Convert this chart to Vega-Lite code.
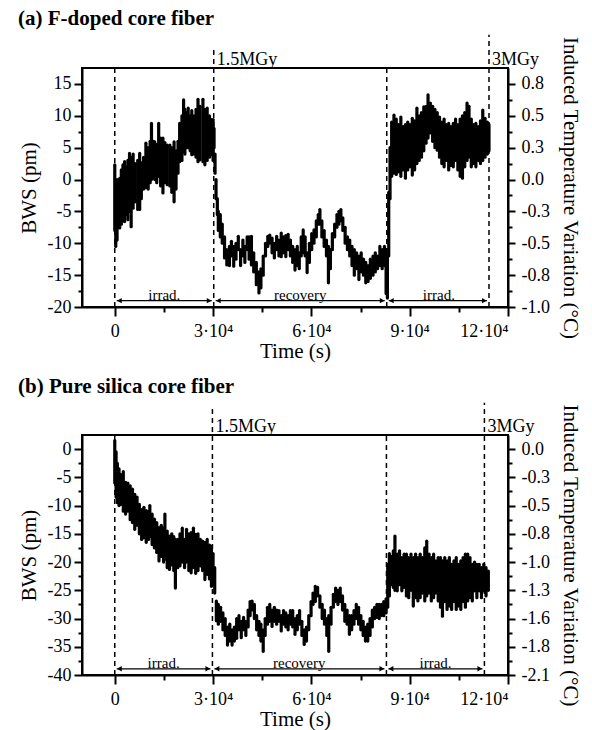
{
  "$schema": "https://vega.github.io/schema/vega-lite/v6.json",
  "padding": {"left": 17, "top": 7, "right": 3, "bottom": 0},
  "spacing": 13,
  "config": {
    "font": "Liberation Serif",
    "view": {"stroke": "black", "strokeWidth": 2},
    "axis": {"labelFont": "Liberation Serif", "titleFont": "Liberation Serif", "labelFontSize": 18, "titleFontSize": 21, "titleFontWeight": "normal", "labelColor": "black", "titleColor": "black", "domainColor": "black", "domainWidth": 2, "tickColor": "black", "tickWidth": 2, "grid": false},
    "title": {"font": "Liberation Serif", "fontSize": 21, "fontWeight": "bold", "color": "black", "anchor": "start"}
  },
  "datasets": {
    "a_pts": [
      {"t":0,"lo":-8,"hi":2.3},{"t":300,"lo":-10.5,"hi":-1},{"t":700,"lo":-9.5,"hi":0},{"t":1100,"lo":-7.5,"hi":-1},{"t":1500,"lo":-7.6,"hi":0.2},{"t":2000,"lo":-7,"hi":1.5},{"t":2500,"lo":-6.5,"hi":2.3},{"t":3000,"lo":-6.6,"hi":2.8},{"t":3500,"lo":-5.5,"hi":2},{"t":4000,"lo":-6.3,"hi":3},{"t":4500,"lo":-5,"hi":4.1},{"t":5000,"lo":-7.4,"hi":3.5},{"t":5600,"lo":-4.5,"hi":4},{"t":6200,"lo":-3.5,"hi":2.5},{"t":7000,"lo":-4.7,"hi":3},{"t":7600,"lo":-4.7,"hi":4.1},{"t":8100,"lo":-3,"hi":2.6},{"t":8800,"lo":-1.5,"hi":3.5},{"t":9500,"lo":-1.3,"hi":5.7},{"t":10200,"lo":-1.5,"hi":5},{"t":10800,"lo":-0.5,"hi":6},{"t":11200,"lo":0,"hi":8.8},{"t":11800,"lo":0.3,"hi":6},{"t":12200,"lo":0,"hi":5.9},{"t":12800,"lo":-0.5,"hi":5.5},{"t":13400,"lo":0.5,"hi":8.8},{"t":14000,"lo":-1,"hi":6.5},{"t":14700,"lo":-2.1,"hi":6.5},{"t":15300,"lo":-0.5,"hi":5.8},{"t":16000,"lo":-0.8,"hi":5.4},{"t":16800,"lo":-1,"hi":5.4},{"t":17400,"lo":-2,"hi":5},{"t":18100,"lo":-3.5,"hi":5.9},{"t":18700,"lo":-1.5,"hi":4.5},{"t":19300,"lo":1,"hi":6},{"t":19800,"lo":2.8,"hi":8.8},{"t":20500,"lo":3,"hi":10},{"t":21000,"lo":4.4,"hi":12.5},{"t":21400,"lo":4,"hi":11},{"t":22000,"lo":5,"hi":10.5},{"t":22400,"lo":5,"hi":11.2},{"t":23000,"lo":4.5,"hi":10},{"t":23500,"lo":3.9,"hi":10.8},{"t":24200,"lo":4,"hi":10},{"t":24800,"lo":3.5,"hi":11},{"t":25400,"lo":2.8,"hi":12.6},{"t":26000,"lo":3.1,"hi":11.5},{"t":26900,"lo":2.8,"hi":12.6},{"t":27500,"lo":2.3,"hi":11},{"t":28200,"lo":3,"hi":11.2},{"t":28900,"lo":3.5,"hi":10},{"t":29500,"lo":3.9,"hi":9.4},{"t":30000,"lo":3,"hi":9.4},
      {"t":30300,"lo":5,"hi":8},{"t":30600,"lo":1,"hi":4},{"t":30900,"lo":-3,"hi":0},{"t":31300,"lo":-5.5,"hi":-3},
      {"t":31600,"lo":-8,"hi":-5},{"t":32200,"lo":-9,"hi":-5.5},{"t":32800,"lo":-10,"hi":-7},{"t":33500,"lo":-12.3,"hi":-9},{"t":34200,"lo":-13.4,"hi":-11},{"t":35000,"lo":-13.5,"hi":-10.5},{"t":35600,"lo":-12,"hi":-9.7},{"t":36300,"lo":-13.6,"hi":-10.5},{"t":37000,"lo":-12.5,"hi":-10},{"t":37700,"lo":-11,"hi":-8.9},{"t":38400,"lo":-13.5,"hi":-11},{"t":39100,"lo":-12,"hi":-9.5},{"t":39700,"lo":-13,"hi":-10.5},{"t":40400,"lo":-11,"hi":-9},{"t":41000,"lo":-12.5,"hi":-9},{"t":41700,"lo":-13.4,"hi":-8.9},{"t":42400,"lo":-14.5,"hi":-11.5},{"t":43200,"lo":-16.5,"hi":-13},{"t":44000,"lo":-17.8,"hi":-14.5},{"t":44600,"lo":-17,"hi":-14},{"t":45300,"lo":-15,"hi":-12},{"t":46000,"lo":-12,"hi":-10},{"t":46700,"lo":-10.5,"hi":-8.9},{"t":47300,"lo":-10,"hi":-8.7},{"t":48000,"lo":-11.5,"hi":-9.2},{"t":48700,"lo":-12.3,"hi":-10},{"t":49400,"lo":-11,"hi":-8.9},{"t":50100,"lo":-12,"hi":-9.5},{"t":50800,"lo":-12.1,"hi":-8.4},{"t":51500,"lo":-11.5,"hi":-9},{"t":52200,"lo":-12.1,"hi":-8.8},{"t":52900,"lo":-11,"hi":-8.6},{"t":53600,"lo":-12,"hi":-9.5},{"t":54300,"lo":-13,"hi":-10.5},{"t":55000,"lo":-14.2,"hi":-11},{"t":55700,"lo":-13.5,"hi":-10.5},{"t":56300,"lo":-14,"hi":-11.5},{"t":56900,"lo":-12,"hi":-9},{"t":57500,"lo":-11.5,"hi":-7.9},{"t":58100,"lo":-12,"hi":-9},{"t":58700,"lo":-14.6,"hi":-11.5},{"t":59400,"lo":-13,"hi":-10},{"t":60100,"lo":-11,"hi":-8.5},{"t":60800,"lo":-10,"hi":-7.9},{"t":61500,"lo":-9,"hi":-6.5},{"t":62100,"lo":-7,"hi":-5.5},{"t":62600,"lo":-7,"hi":-4.7},{"t":63200,"lo":-9,"hi":-6.5},{"t":63900,"lo":-10.5,"hi":-8},{"t":64600,"lo":-12,"hi":-9.5},{"t":65200,"lo":-16.2,"hi":-10.5},{"t":65800,"lo":-14,"hi":-11},{"t":66400,"lo":-11,"hi":-8.5},{"t":67100,"lo":-9,"hi":-7},{"t":67800,"lo":-7.5,"hi":-5.5},{"t":68400,"lo":-7,"hi":-5},{"t":69000,"lo":-6.5,"hi":-4.7},{"t":69600,"lo":-8,"hi":-6},{"t":70300,"lo":-10,"hi":-7.5},{"t":71000,"lo":-11,"hi":-9},{"t":71700,"lo":-12,"hi":-9.5},{"t":72400,"lo":-13.5,"hi":-10.5},{"t":73100,"lo":-15,"hi":-11},{"t":73800,"lo":-14,"hi":-11.5},{"t":74500,"lo":-15.7,"hi":-12},{"t":75200,"lo":-14.5,"hi":-11.5},{"t":75900,"lo":-15,"hi":-12.5},{"t":76600,"lo":-16.2,"hi":-13},{"t":77300,"lo":-16,"hi":-13.5},{"t":78000,"lo":-15.5,"hi":-12.5},{"t":78800,"lo":-15,"hi":-12},{"t":79500,"lo":-14.5,"hi":-11.5},{"t":80200,"lo":-14,"hi":-12},{"t":80900,"lo":-13.5,"hi":-10.5},{"t":81600,"lo":-14,"hi":-11},{"t":82300,"lo":-13.5,"hi":-10.5},{"t":82800,"lo":-17.9,"hi":-11},
      {"t":83200,"lo":-18.6,"hi":-12},{"t":83600,"lo":-12,"hi":-2},{"t":84000,"lo":-3,"hi":5},
      {"t":84500,"lo":0.5,"hi":9},{"t":85200,"lo":1,"hi":10.1},{"t":85900,"lo":0.8,"hi":9.5},{"t":86600,"lo":1.2,"hi":8.6},{"t":87300,"lo":0.5,"hi":9.8},{"t":88000,"lo":1.5,"hi":8.3},{"t":88700,"lo":0.2,"hi":8.6},{"t":89400,"lo":1.5,"hi":9},{"t":90100,"lo":2,"hi":8.6},{"t":90800,"lo":0.7,"hi":9.6},{"t":91500,"lo":1.5,"hi":9.2},{"t":92200,"lo":2.5,"hi":11.2},{"t":92900,"lo":3,"hi":10},{"t":93600,"lo":3.5,"hi":10.5},{"t":94300,"lo":4.5,"hi":11.4},{"t":95000,"lo":5.7,"hi":11.5},{"t":95600,"lo":6.5,"hi":13.3},{"t":96300,"lo":7.3,"hi":12},{"t":97000,"lo":6,"hi":11.5},{"t":97700,"lo":5,"hi":11},{"t":98400,"lo":4.6,"hi":10.5},{"t":99100,"lo":3.5,"hi":9.8},{"t":99800,"lo":2.5,"hi":9},{"t":100500,"lo":2,"hi":9.5},{"t":101200,"lo":3,"hi":8.6},{"t":101900,"lo":1.5,"hi":8.8},{"t":102600,"lo":2.2,"hi":8.3},{"t":103300,"lo":2,"hi":8.8},{"t":104000,"lo":3,"hi":9.5},{"t":104700,"lo":1.5,"hi":8.6},{"t":105400,"lo":0.5,"hi":9.5},{"t":106100,"lo":0.2,"hi":10},{"t":106800,"lo":2,"hi":10.5},{"t":107500,"lo":3,"hi":12},{"t":108100,"lo":3.5,"hi":11.5},{"t":108800,"lo":2,"hi":9.5},{"t":109500,"lo":2.5,"hi":8.6},{"t":110200,"lo":2,"hi":8.8},{"t":110900,"lo":3,"hi":8.3},{"t":111600,"lo":2.5,"hi":9.2},{"t":112300,"lo":3,"hi":10.9},{"t":113000,"lo":3.5,"hi":9.6},{"t":113700,"lo":4,"hi":9},{"t":114200,"lo":4.5,"hi":8.6}
    ],
    "b_pts": [
      {"t":0,"lo":-6,"hi":1.5},{"t":400,"lo":-8.5,"hi":-0.5},{"t":800,"lo":-9.5,"hi":-2.5},{"t":1300,"lo":-10,"hi":-3.5},{"t":1900,"lo":-9.8,"hi":-4.5},{"t":2600,"lo":-11,"hi":-4},{"t":3300,"lo":-11.5,"hi":-5.9},{"t":4000,"lo":-11,"hi":-6},{"t":4700,"lo":-12.5,"hi":-6.5},{"t":5400,"lo":-13,"hi":-7.1},{"t":6100,"lo":-14.2,"hi":-8},{"t":6800,"lo":-13.5,"hi":-8.5},{"t":7500,"lo":-15,"hi":-9.8},{"t":8200,"lo":-16,"hi":-10.7},{"t":8900,"lo":-15.7,"hi":-10.3},{"t":9600,"lo":-16.5,"hi":-10.9},{"t":10300,"lo":-16,"hi":-11},{"t":10700,"lo":-15.5,"hi":-10},{"t":11400,"lo":-16.9,"hi":-11.5},{"t":12100,"lo":-17.5,"hi":-12.4},{"t":12800,"lo":-18.3,"hi":-13},{"t":13500,"lo":-19.8,"hi":-13.9},{"t":14200,"lo":-19,"hi":-13.5},{"t":14900,"lo":-20,"hi":-14},{"t":15300,"lo":-19.5,"hi":-11.5},{"t":16000,"lo":-21,"hi":-14.5},{"t":16700,"lo":-21.3,"hi":-15.4},{"t":17400,"lo":-20.5,"hi":-15},{"t":18000,"lo":-21.5,"hi":-15.5},{"t":18500,"lo":-24.6,"hi":-16},{"t":19200,"lo":-21,"hi":-16},{"t":19900,"lo":-20.7,"hi":-15},{"t":20600,"lo":-20,"hi":-14},{"t":21300,"lo":-21,"hi":-16},{"t":21900,"lo":-20,"hi":-14.2},{"t":22600,"lo":-21.5,"hi":-15},{"t":23300,"lo":-21.9,"hi":-14.8},{"t":24000,"lo":-21,"hi":-14},{"t":24700,"lo":-22,"hi":-15.1},{"t":25400,"lo":-21.5,"hi":-15},{"t":26100,"lo":-20.7,"hi":-16},{"t":26800,"lo":-21.5,"hi":-16.3},{"t":27500,"lo":-23.1,"hi":-16.5},{"t":28200,"lo":-22.2,"hi":-16},{"t":28900,"lo":-23,"hi":-17},{"t":29500,"lo":-24.3,"hi":-17.2},{"t":30000,"lo":-24,"hi":-18.5},{"t":30500,"lo":-25.5,"hi":-21},
      {"t":31000,"lo":-30.4,"hi":-26.9},{"t":31600,"lo":-31,"hi":-27.5},{"t":32300,"lo":-30.5,"hi":-28},{"t":33000,"lo":-32,"hi":-29},{"t":33700,"lo":-33,"hi":-30},{"t":34400,"lo":-34.7,"hi":-31.5},{"t":35100,"lo":-34,"hi":-31},{"t":35800,"lo":-34.7,"hi":-32},{"t":36500,"lo":-34,"hi":-31.5},{"t":37200,"lo":-33.5,"hi":-30},{"t":37900,"lo":-32,"hi":-29.5},{"t":38600,"lo":-33.4,"hi":-30.5},{"t":39300,"lo":-32,"hi":-29.8},{"t":40000,"lo":-33,"hi":-30.5},{"t":40700,"lo":-31.5,"hi":-28.5},{"t":41300,"lo":-29.5,"hi":-27},{"t":41900,"lo":-28.5,"hi":-26.9},{"t":42600,"lo":-30,"hi":-27.5},{"t":43300,"lo":-32,"hi":-29.5},{"t":44000,"lo":-33,"hi":-30.5},{"t":44600,"lo":-34,"hi":-31},{"t":45300,"lo":-35.8,"hi":-32},{"t":45900,"lo":-33,"hi":-30},{"t":46600,"lo":-31,"hi":-28},{"t":47300,"lo":-30.5,"hi":-27.5},{"t":48000,"lo":-31.4,"hi":-28.5},{"t":48700,"lo":-30.5,"hi":-28},{"t":49400,"lo":-31,"hi":-28.5},{"t":50100,"lo":-30.5,"hi":-28.6},{"t":50800,"lo":-32.2,"hi":-29.5},{"t":51500,"lo":-31,"hi":-28.6},{"t":52200,"lo":-31.5,"hi":-29},{"t":52900,"lo":-32,"hi":-29.5},{"t":53600,"lo":-31,"hi":-28.6},{"t":54300,"lo":-31.5,"hi":-28.6},{"t":55000,"lo":-32.8,"hi":-30},{"t":55700,"lo":-32,"hi":-29.5},{"t":56400,"lo":-31,"hi":-28.6},{"t":57100,"lo":-33,"hi":-30.5},{"t":57800,"lo":-34.6,"hi":-32},{"t":58500,"lo":-34,"hi":-31.5},{"t":59200,"lo":-32,"hi":-29.5},{"t":59900,"lo":-29.5,"hi":-27},{"t":60500,"lo":-27.5,"hi":-25.5},{"t":61200,"lo":-27,"hi":-24.3},{"t":61900,"lo":-26,"hi":-24.5},{"t":62600,"lo":-28,"hi":-26},{"t":63300,"lo":-30,"hi":-27.5},{"t":64000,"lo":-31,"hi":-28.5},{"t":64700,"lo":-33,"hi":-30},{"t":65300,"lo":-35.8,"hi":-29.5},{"t":66000,"lo":-31,"hi":-28},{"t":66700,"lo":-28,"hi":-25.7},{"t":67400,"lo":-27,"hi":-24.6},{"t":68100,"lo":-27.5,"hi":-25},{"t":68800,"lo":-27,"hi":-24.6},{"t":69500,"lo":-28.5,"hi":-26},{"t":70200,"lo":-30.5,"hi":-27.5},{"t":70900,"lo":-31,"hi":-28.5},{"t":71600,"lo":-32.8,"hi":-29.5},{"t":72300,"lo":-32,"hi":-29.5},{"t":73000,"lo":-31,"hi":-28.6},{"t":73700,"lo":-30,"hi":-27.5},{"t":74400,"lo":-31,"hi":-28},{"t":75100,"lo":-32,"hi":-29.5},{"t":75800,"lo":-33,"hi":-30.5},{"t":76500,"lo":-34,"hi":-31.5},{"t":77200,"lo":-34,"hi":-31},{"t":77900,"lo":-33,"hi":-30},{"t":78600,"lo":-31.5,"hi":-28.5},{"t":79300,"lo":-30,"hi":-28},{"t":80000,"lo":-29.8,"hi":-27.5},{"t":80700,"lo":-30,"hi":-27.5},{"t":81400,"lo":-29.5,"hi":-27.5},{"t":82100,"lo":-29.5,"hi":-27},{"t":82800,"lo":-29,"hi":-26.5},{"t":83300,"lo":-28,"hi":-20.4},{"t":83800,"lo":-26,"hi":-18.5},
      {"t":84300,"lo":-24,"hi":-19},{"t":85000,"lo":-24.5,"hi":-18},{"t":85500,"lo":-25,"hi":-15.4},{"t":86200,"lo":-25.1,"hi":-18.6},{"t":86900,"lo":-24,"hi":-18},{"t":87600,"lo":-25.1,"hi":-19.2},{"t":88300,"lo":-24.5,"hi":-18.6},{"t":89000,"lo":-26,"hi":-18.6},{"t":89700,"lo":-26.3,"hi":-19.2},{"t":90400,"lo":-25,"hi":-18.6},{"t":91100,"lo":-27.8,"hi":-19.2},{"t":91800,"lo":-26.3,"hi":-18.6},{"t":92500,"lo":-26.9,"hi":-19.2},{"t":93200,"lo":-26.3,"hi":-18.6},{"t":93900,"lo":-25.5,"hi":-19.2},{"t":94600,"lo":-26.9,"hi":-17.5},{"t":95200,"lo":-26,"hi":-16.3},{"t":95900,"lo":-25.5,"hi":-18.6},{"t":96600,"lo":-26.9,"hi":-19.2},{"t":97300,"lo":-26.3,"hi":-18.6},{"t":98000,"lo":-25.5,"hi":-19.8},{"t":98700,"lo":-26.9,"hi":-19.2},{"t":99400,"lo":-28,"hi":-19.2},{"t":100000,"lo":-29.6,"hi":-19.8},{"t":100700,"lo":-27,"hi":-19.2},{"t":101400,"lo":-28.4,"hi":-19.8},{"t":102100,"lo":-27.8,"hi":-19.2},{"t":102800,"lo":-28.4,"hi":-20.4},{"t":103500,"lo":-27,"hi":-19.8},{"t":104200,"lo":-28.4,"hi":-19.2},{"t":104900,"lo":-27.8,"hi":-20.4},{"t":105600,"lo":-28.4,"hi":-19.8},{"t":106300,"lo":-27,"hi":-19.2},{"t":107000,"lo":-28,"hi":-18.6},{"t":107700,"lo":-26.9,"hi":-18.6},{"t":108400,"lo":-26.3,"hi":-19.2},{"t":109100,"lo":-26.9,"hi":-20.4},{"t":109800,"lo":-25.1,"hi":-20},{"t":110500,"lo":-26.3,"hi":-20.4},{"t":111200,"lo":-25.1,"hi":-20.4},{"t":111900,"lo":-26.3,"hi":-21},{"t":112600,"lo":-25.1,"hi":-20.4},{"t":113300,"lo":-26,"hi":-21},{"t":114000,"lo":-25,"hi":-21.6}
    ],
    "a_lines": [{"t":0,"y1":-20,"y2":17.5},{"t":30200,"y1":-20,"y2":20.5},{"t":83000,"y1":-20,"y2":17.5},{"t":114200,"y1":-20,"y2":22.7}],
    "a_dose": [{"t":30200,"y":18,"label":"1.5MGy"},{"t":114200,"y":18,"label":"3MGy"}],
    "a_arrows": [{"a":600,"b":29600,"y":-19,"mid":15100,"label":"irrad."},{"a":30800,"b":82400,"y":-19,"mid":56600,"label":"recovery"},{"a":83600,"b":113600,"y":-19,"mid":98900,"label":"irrad."}],
    "a_heads": [{"t":1400,"y":-19,"dir":"triangle-left"},{"t":28800,"y":-19,"dir":"triangle-right"},{"t":31600,"y":-19,"dir":"triangle-left"},{"t":81600,"y":-19,"dir":"triangle-right"},{"t":84400,"y":-19,"dir":"triangle-left"},{"t":112800,"y":-19,"dir":"triangle-right"}],
    "b_lines": [{"t":0,"y1":-40,"y2":2.5},{"t":29800,"y1":-40,"y2":7.8},{"t":82900,"y1":-40,"y2":2.5},{"t":112800,"y1":-40,"y2":8.2}],
    "b_dose": [{"t":29800,"y":3.1,"label":"1.5MGy"},{"t":112800,"y":3.1,"label":"3MGy"}],
    "b_arrows": [{"a":600,"b":29200,"y":-38.9,"mid":14900,"label":"irrad."},{"a":30400,"b":82300,"y":-38.9,"mid":56300,"label":"recovery"},{"a":83500,"b":112200,"y":-38.9,"mid":97900,"label":"irrad."}],
    "b_heads": [{"t":1400,"y":-38.9,"dir":"triangle-left"},{"t":28400,"y":-38.9,"dir":"triangle-right"},{"t":31200,"y":-38.9,"dir":"triangle-left"},{"t":81500,"y":-38.9,"dir":"triangle-right"},{"t":84300,"y":-38.9,"dir":"triangle-left"},{"t":111400,"y":-38.9,"dir":"triangle-right"}]
  },
  "vconcat": [
    {
      "width": 426, "height": 239,
      "title": {"text": "(a) F-doped core fiber", "offset": 5},
      "layer": [
        {
          "data": {"name": "a_pts"},
          "mark": {"type": "rule", "strokeWidth": 3.2, "strokeCap": "round", "color": "black", "clip": false},
          "encoding": {
            "x": {"field": "t", "type": "quantitative", "scale": {"domain": [-10000, 120000], "nice": false, "zero": false},
              "axis": {"title": "Time (s)", "values": [0,15000,30000,45000,60000,75000,90000,105000,120000],
                "labelExpr": "datum.value === 0 ? '0' : (datum.value % 30000 === 0 ? (datum.value/10000) + '·10⁴' : '')",
                "tickSize": {"condition": {"test": "datum.value % 30000 === 0", "value": 9}, "value": 5},
                "labelPadding": 6, "titlePadding": 0}},
            "y": {"field": "lo", "type": "quantitative", "scale": {"domain": [-20, 17.5], "nice": false, "zero": false},
              "axis": {"title": "BWS (pm)", "values": [-20,-17.5,-15,-12.5,-10,-7.5,-5,-2.5,0,2.5,5,7.5,10,12.5,15],
                "labelExpr": "datum.value % 5 === 0 ? '' + datum.value : ''",
                "tickSize": {"condition": {"test": "datum.value % 5 === 0", "value": 8}, "value": 4},
                "labelPadding": 3, "titlePadding": 8}},
            "y2": {"field": "hi"}
          }
        },
        {
          "data": {"name": "a_lines"},
          "mark": {"type": "rule", "strokeDash": [5, 4], "strokeWidth": 1.5, "color": "black", "clip": false},
          "encoding": {
            "x": {"field": "t", "type": "quantitative"},
            "y": {"field": "y1", "type": "quantitative", "scale": {"domain": [-20, 17.5], "nice": false, "zero": false},
              "axis": {"orient": "right", "title": "Induced Temperature Variation (°C)", "values": [-20,-17.5,-15,-12.5,-10,-7.5,-5,-2.5,0,2.5,5,7.5,10,12.5,15],
                "labelExpr": "datum.value % 5 === 0 ? (indexof('' + round(datum.value*0.52)/10, '.') < 0 ? (round(datum.value*0.52)/10) + '.0' : '' + round(datum.value*0.52)/10) : ''",
                "tickSize": {"condition": {"test": "datum.value % 5 === 0", "value": 7}, "value": 4},
                "labelPadding": 6, "titlePadding": 10}},
            "y2": {"field": "y2"}
          }
        },
        {
          "data": {"name": "a_dose"},
          "mark": {"type": "text", "align": "left", "baseline": "alphabetic", "dx": 3, "fontSize": 18, "font": "Liberation Serif", "color": "black", "clip": false},
          "encoding": {
            "x": {"field": "t", "type": "quantitative"},
            "y": {"field": "y", "type": "quantitative", "scale": {"domain": [-20, 17.5], "nice": false, "zero": false}, "axis": null},
            "text": {"field": "label"}
          }
        },
        {
          "data": {"name": "a_arrows"},
          "mark": {"type": "rule", "strokeWidth": 1.2, "color": "black"},
          "encoding": {
            "x": {"field": "a", "type": "quantitative"},
            "x2": {"field": "b"},
            "y": {"field": "y", "type": "quantitative", "scale": {"domain": [-20, 17.5], "nice": false, "zero": false}, "axis": null}
          }
        },
        {
          "data": {"name": "a_heads"},
          "mark": {"type": "point", "filled": true, "size": 30, "color": "black", "opacity": 1},
          "encoding": {
            "x": {"field": "t", "type": "quantitative"},
            "y": {"field": "y", "type": "quantitative", "scale": {"domain": [-20, 17.5], "nice": false, "zero": false}, "axis": null},
            "shape": {"field": "dir", "type": "nominal", "scale": null}
          }
        },
        {
          "data": {"name": "a_arrows"},
          "mark": {"type": "text", "baseline": "alphabetic", "dy": -1, "fontSize": 15, "font": "Liberation Serif", "color": "black"},
          "encoding": {
            "x": {"field": "mid", "type": "quantitative"},
            "y": {"field": "y", "type": "quantitative", "scale": {"domain": [-20, 17.5], "nice": false, "zero": false}, "axis": null},
            "text": {"field": "label"}
          }
        }
      ],
      "resolve": {"scale": {"y": "independent"}}
    },
    {
      "width": 426, "height": 240,
      "title": {"text": "(b) Pure silica core fiber", "offset": 5},
      "layer": [
        {
          "data": {"name": "b_pts"},
          "mark": {"type": "rule", "strokeWidth": 3.2, "strokeCap": "round", "color": "black", "clip": false},
          "encoding": {
            "x": {"field": "t", "type": "quantitative", "scale": {"domain": [-10000, 120000], "nice": false, "zero": false},
              "axis": {"title": "Time (s)", "values": [0,15000,30000,45000,60000,75000,90000,105000,120000],
                "labelExpr": "datum.value === 0 ? '0' : (datum.value % 30000 === 0 ? (datum.value/10000) + '·10⁴' : '')",
                "tickSize": {"condition": {"test": "datum.value % 30000 === 0", "value": 9}, "value": 5},
                "labelPadding": 6, "titlePadding": 0}},
            "y": {"field": "lo", "type": "quantitative", "scale": {"domain": [-40, 2.5], "nice": false, "zero": false},
              "axis": {"title": "BWS (pm)", "values": [-40,-37.5,-35,-32.5,-30,-27.5,-25,-22.5,-20,-17.5,-15,-12.5,-10,-7.5,-5,-2.5,0],
                "labelExpr": "datum.value % 5 === 0 ? '' + datum.value : ''",
                "tickSize": {"condition": {"test": "datum.value % 5 === 0", "value": 8}, "value": 4},
                "labelPadding": 3, "titlePadding": 8}},
            "y2": {"field": "hi"}
          }
        },
        {
          "data": {"name": "b_lines"},
          "mark": {"type": "rule", "strokeDash": [5, 4], "strokeWidth": 1.5, "color": "black", "clip": false},
          "encoding": {
            "x": {"field": "t", "type": "quantitative"},
            "y": {"field": "y1", "type": "quantitative", "scale": {"domain": [-40, 2.5], "nice": false, "zero": false},
              "axis": {"orient": "right", "title": "Induced Temperature Variation (°C)", "values": [-40,-37.5,-35,-32.5,-30,-27.5,-25,-22.5,-20,-17.5,-15,-12.5,-10,-7.5,-5,-2.5,0],
                "labelExpr": "datum.value % 5 === 0 ? (indexof('' + round(datum.value*0.52)/10, '.') < 0 ? (round(datum.value*0.52)/10) + '.0' : '' + round(datum.value*0.52)/10) : ''",
                "tickSize": {"condition": {"test": "datum.value % 5 === 0", "value": 7}, "value": 4},
                "labelPadding": 6, "titlePadding": 10}},
            "y2": {"field": "y2"}
          }
        },
        {
          "data": {"name": "b_dose"},
          "mark": {"type": "text", "align": "left", "baseline": "alphabetic", "dx": 3, "fontSize": 18, "font": "Liberation Serif", "color": "black", "clip": false},
          "encoding": {
            "x": {"field": "t", "type": "quantitative"},
            "y": {"field": "y", "type": "quantitative", "scale": {"domain": [-40, 2.5], "nice": false, "zero": false}, "axis": null},
            "text": {"field": "label"}
          }
        },
        {
          "data": {"name": "b_arrows"},
          "mark": {"type": "rule", "strokeWidth": 1.2, "color": "black"},
          "encoding": {
            "x": {"field": "a", "type": "quantitative"},
            "x2": {"field": "b"},
            "y": {"field": "y", "type": "quantitative", "scale": {"domain": [-40, 2.5], "nice": false, "zero": false}, "axis": null}
          }
        },
        {
          "data": {"name": "b_heads"},
          "mark": {"type": "point", "filled": true, "size": 30, "color": "black", "opacity": 1},
          "encoding": {
            "x": {"field": "t", "type": "quantitative"},
            "y": {"field": "y", "type": "quantitative", "scale": {"domain": [-40, 2.5], "nice": false, "zero": false}, "axis": null},
            "shape": {"field": "dir", "type": "nominal", "scale": null}
          }
        },
        {
          "data": {"name": "b_arrows"},
          "mark": {"type": "text", "baseline": "alphabetic", "dy": -1, "fontSize": 15, "font": "Liberation Serif", "color": "black"},
          "encoding": {
            "x": {"field": "mid", "type": "quantitative"},
            "y": {"field": "y", "type": "quantitative", "scale": {"domain": [-40, 2.5], "nice": false, "zero": false}, "axis": null},
            "text": {"field": "label"}
          }
        }
      ],
      "resolve": {"scale": {"y": "independent"}}
    }
  ]
}
